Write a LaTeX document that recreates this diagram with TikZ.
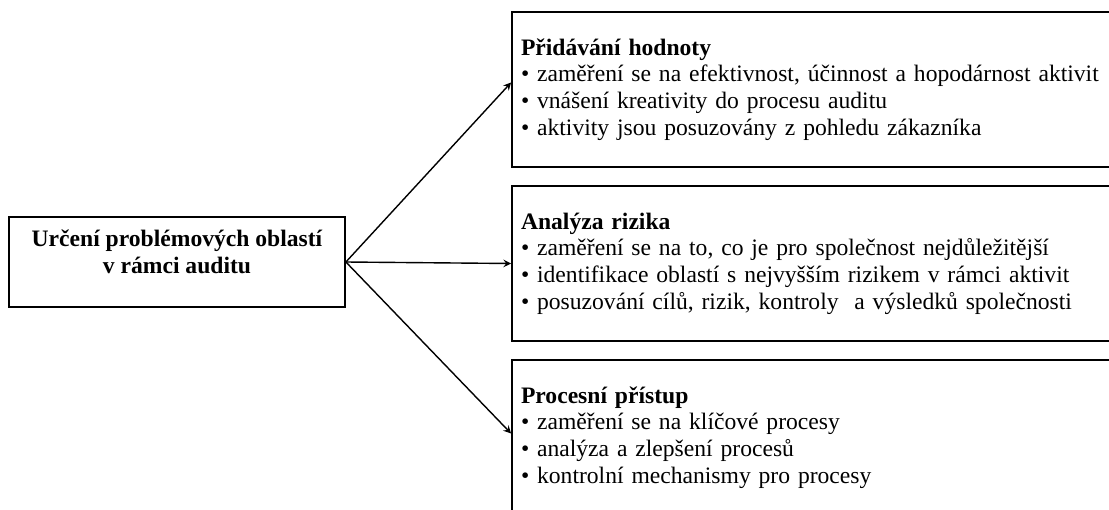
\documentclass[tikz,border=0pt]{standalone}
\usepackage{fontspec}
\setmainfont{Liberation Serif}
\usepackage{tikz}
\usetikzlibrary{arrows}
\newcommand{\boxfont}{\fontsize{11.8}{13.35}\selectfont}
\tikzstyle{problem} = [rectangle, minimum width=168pt, minimum height=45pt, align=center, text depth=10pt, draw=black, line width=0.9pt, font=\boxfont\bfseries]
\tikzstyle{area} = [rectangle, minimum height=77.5pt, text width=300pt, inner xsep=4.5pt, align=left, draw=black, line width=0.9pt, font=\boxfont]
\tikzstyle{arrow} = [line width=0.7pt,->,>=stealth]

\begin{document}
\begin{tikzpicture}[node distance=87pt]
\useasboundingbox (-88.5pt,-123.5pt) rectangle (466pt,131pt);
\clip (-88.5pt,-123.5pt) rectangle (466pt,131pt);

\node(src)[problem]{Určení problémových oblastí\\ v rámci auditu};
\node(risk)[area, right of=src, xshift=235pt, yshift=-0.75pt]{\textbf{Analýza rizika}\\
  • zaměření se na to, co je pro společnost nejdůležitější\\
  • identifikace oblastí s nejvyšším rizikem v rámci aktivit\\
  • posuzování cílů, rizik, kontroly\ \ a výsledků společnosti};
\node(value)[area, above of=risk]{\textbf{Přidávání hodnoty}\\
  • zaměření se na efektivnost, účinnost a hopodárnost aktivit\\
  • vnášení kreativity do procesu auditu\\
  • aktivity jsou posuzovány z pohledu zákazníka};
\node(proc)[area, below of=risk]{\textbf{Procesní přístup}\\
  • zaměření se na klíčové procesy\\
  • analýza a zlepšení procesů\\
  • kontrolní mechanismy pro procesy};

\draw [arrow] (src.east) -- ([yshift=3.5pt]value.west);
\draw [arrow] (src.east) -- (risk.west);
\draw [arrow] (src.east) -- ([yshift=2pt]proc.west);
\end{tikzpicture}
\end{document}
